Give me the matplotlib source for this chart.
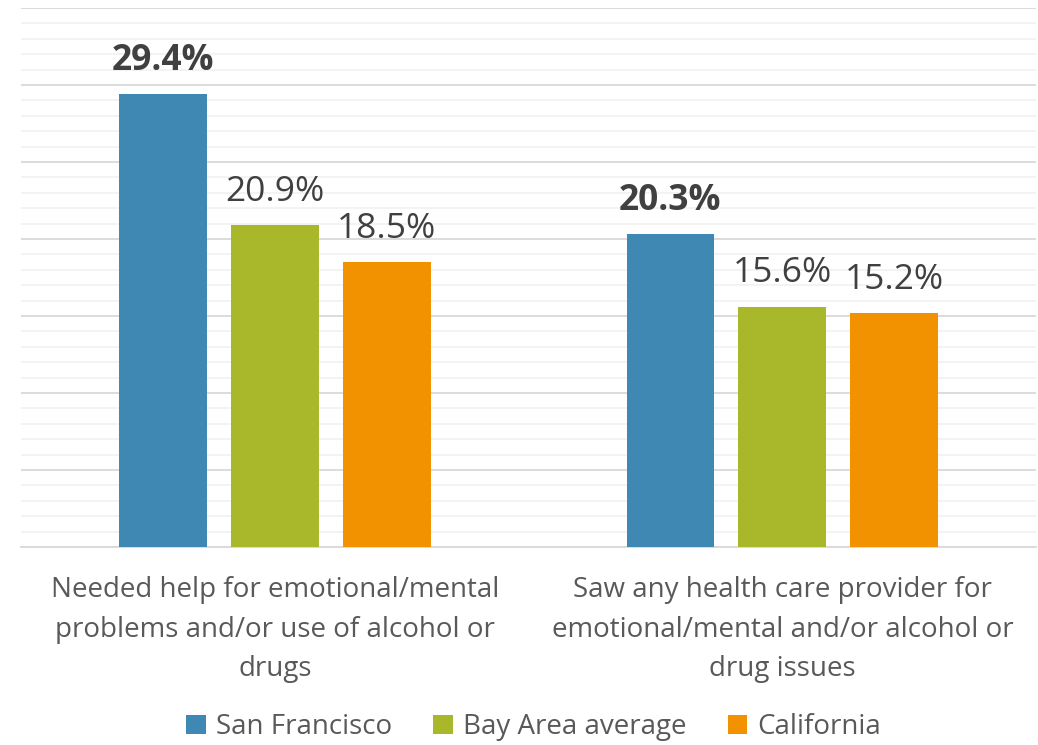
import numpy as np
import matplotlib.pyplot as plt
from matplotlib.ticker import MultipleLocator

plt.rcParams['font.family'] = ['Open Sans', 'DejaVu Sans']

# data
categories = ['Needed help for emotional/mental\nproblems and/or use of alcohol or\ndrugs',
              'Saw any health care provider for\nemotional/mental and/or alcohol or\ndrug issues']
series = ['San Francisco', 'Bay Area average', 'California']
san_francisco = [29.4, 20.3]
bay_area = [20.9, 15.6]
california = [18.5, 15.2]
colors = ['#3F88B4', '#A8B82A', '#F39200']

fig = plt.figure(figsize=(10.38, 7.45), dpi=100)
ax = fig.add_axes([0.0202, 0.2658, 0.978, 0.7235])

x = np.arange(len(categories))
width = 0.173
step = 0.2205
text_color = '#404040'

for i, (vals, name) in enumerate(zip([san_francisco, bay_area, california], series)):
    bars = ax.bar(x + (i - 1) * step, vals, width, color=colors[i], label=name, zorder=3)
    for b, v in zip(bars, vals):
        ax.annotate(f'{v}%', (b.get_x() + b.get_width() / 2, v), xytext=(0, 17.5),
                    textcoords='offset points', ha='center', va='baseline',
                    fontsize=25.5, color=text_color,
                    fontweight='bold' if i == 0 else 'normal')

ax.set_xlim(-0.5, 1.5)
ax.set_ylim(0, 35)
ax.yaxis.set_major_locator(MultipleLocator(5))
ax.yaxis.set_minor_locator(MultipleLocator(1))
ax.grid(axis='y', which='major', color='#D9D9D9', linewidth=1.3, zorder=0)
ax.grid(axis='y', which='minor', color='#F2F2F2', linewidth=1.3, zorder=0)
ax.tick_params(axis='y', which='both', left=False, labelleft=False)
ax.tick_params(axis='x', length=0, pad=21)
ax.set_xticks(x)
ax.set_xticklabels(categories, fontsize=20, color='#595959', linespacing=1.55)
for s in ['top', 'left', 'right']:
    ax.spines[s].set_visible(False)
ax.spines['bottom'].set_color('#D9D9D9')
ax.spines['bottom'].set_linewidth(1.3)

leg = fig.legend(loc='center', bbox_to_anchor=(0.514, 0.024), ncol=3, frameon=False,
                 fontsize=20, handlelength=0.7, handleheight=0.7, handletextpad=0.35,
                 columnspacing=1.5)
for t in leg.get_texts():
    t.set_color('#595959')

fig.savefig('out.png', dpi=100)
